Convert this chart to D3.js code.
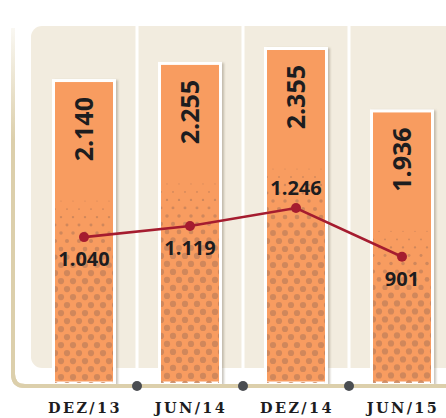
<!DOCTYPE html>
<html><head><meta charset="utf-8">
<script src="https://cdn.jsdelivr.net/npm/d3@7"></script>
<style>html,body{margin:0;padding:0;background:#fff;}svg{display:block;}</style>
</head><body><div id="chart"></div>
<script>
const categories = ["DEZ/13", "JUN/14", "DEZ/14", "JUN/15"];
const barValues = [2140, 2255, 2355, 1936];
const barLabels = ["2.140", "2.255", "2.355", "1.936"];
const lineValues = [1040, 1119, 1246, 901];
const lineLabels = ["1.040", "1.119", "1.246", "901"];

const W = 446, H = 418;
const svg = d3.select("#chart").append("svg").attr("width", W).attr("height", H);
const defs = svg.append("defs");

const x = d3.scaleBand().domain(categories).range([31, 455]);
const yBar = d3.scaleLinear().domain([0, 2355]).range([398, 47]);
const yLine = d3.scaleLinear().domain([0, 1246]).range([384, 208]);
const baseY = 383;

// panel
svg.append("rect").attr("x", 31).attr("y", 26).attr("width", 440).attr("height", 342)
  .attr("rx", 11).attr("fill", "#f2ecdf");
// separators
svg.selectAll("line.sep").data(categories.slice(1)).join("line")
  .attr("x1", d => x(d)).attr("x2", d => x(d)).attr("y1", 20).attr("y2", 370)
  .attr("stroke", "#fff").attr("stroke-width", 3);

// axis path gradient
const g = defs.append("linearGradient").attr("id", "axg").attr("gradientUnits", "userSpaceOnUse")
  .attr("x1", 0).attr("y1", 28).attr("x2", 0).attr("y2", 140);
g.append("stop").attr("offset", 0).attr("stop-color", "#dccfab").attr("stop-opacity", 0.15);
g.append("stop").attr("offset", 1).attr("stop-color", "#dccfab").attr("stop-opacity", 1);

// shadow filter
const f = defs.append("filter").attr("id", "sh").attr("x", "-20%").attr("y", "-5%").attr("width", "140%").attr("height", "110%");
f.append("feDropShadow").attr("dx", 2).attr("dy", 1).attr("stdDeviation", 1.2)
  .attr("flood-color", "#8a8170").attr("flood-opacity", 0.45);

// bars
const bw = 58;
categories.forEach((c, i) => {
  const cx = x(c) + x.bandwidth() / 2;
  const top = yBar(barValues[i]);
  svg.append("rect").attr("x", cx - bw / 2 - 1.5).attr("y", top + 1.5)
    .attr("width", bw + 3).attr("height", baseY - top - 1.5)
    .attr("fill", "#f89c60").attr("stroke", "#fff").attr("stroke-width", 3)
    .attr("filter", "url(#sh)");
  const cp = defs.append("clipPath").attr("id", "cp" + i);
  cp.append("rect").attr("x", cx - bw / 2).attr("y", top + 3).attr("width", bw).attr("height", baseY - top - 3);
  const dots = [];
  const start = top + 106;
  let row = 0;
  for (let yy = start; yy < baseY + 4; yy += 8, row++) {
    const off = (row % 2) ? 6 : 0;
    for (let xx = cx - bw / 2 - 6 + off; xx < cx + bw / 2 + 6; xx += 12) {
      const r = Math.min(3.1, Math.max(0, (yy - start) / 85 * 3.1));
      if (r > 0.3) dots.push([xx, yy, r]);
    }
  }
  svg.append("g").attr("clip-path", "url(#cp" + i + ")")
    .selectAll("circle").data(dots).join("circle")
    .attr("cx", d => d[0]).attr("cy", d => d[1]).attr("r", d => d[2])
    .attr("fill", "#c9845a").attr("opacity", 0.85);
  svg.append("text")
    .attr("transform", `translate(${cx},${top + 18}) rotate(-90)`)
    .attr("text-anchor", "end").attr("dy", "0.36em")
    .attr("font-family", "'Open Sans', sans-serif").attr("font-weight", 700)
    .attr("font-size", 25).attr("fill", "#1d1d1f").text(barLabels[i]);
});

// axis
svg.append("path")
  .attr("d", `M13,28 L13,374 Q13,386 25,386 L450,386`)
  .attr("fill", "none").attr("stroke", "url(#axg)").attr("stroke-width", 4);
svg.append("path")
  .attr("d", `M13,200 L13,374 Q13,386 25,386 L450,386`)
  .attr("fill", "none").attr("stroke", "#dccfab").attr("stroke-width", 4);
svg.selectAll("circle.tk").data(categories.slice(1)).join("circle")
  .attr("cx", d => x(d)).attr("cy", 386).attr("r", 5).attr("fill", "#4a4d51");

// category labels
svg.selectAll("text.cat").data(categories).join("text")
  .attr("x", d => x(d) + x.bandwidth() / 2 + 1).attr("y", 413)
  .attr("text-anchor", "middle").attr("font-family", "'DejaVu Serif', serif")
  .attr("font-weight", 700).attr("font-size", 14.5).attr("letter-spacing", 2.4)
  .attr("fill", "#1d1d1f").text(d => d);

// line
const pts = categories.map((c, i) => [x(c) + x.bandwidth() / 2, yLine(lineValues[i])]);
svg.append("path").attr("d", d3.line()(pts)).attr("fill", "none")
  .attr("stroke", "#a51c2f").attr("stroke-width", 2.6);
svg.selectAll("circle.pt").data(pts).join("circle")
  .attr("cx", d => d[0]).attr("cy", d => d[1]).attr("r", 5).attr("fill", "#a51c2f");
const maxV = d3.max(lineValues);
svg.selectAll("text.lv").data(pts).join("text")
  .attr("x", d => d[0]).attr("y", (d, i) => lineValues[i] === maxV ? d[1] - 13 : d[1] + 29)
  .attr("text-anchor", "middle").attr("font-family", "'Open Sans', sans-serif")
  .attr("font-weight", 700).attr("font-size", 20).attr("fill", "#1d1d1f")
  .text((d, i) => lineLabels[i]);
</script></body></html>
